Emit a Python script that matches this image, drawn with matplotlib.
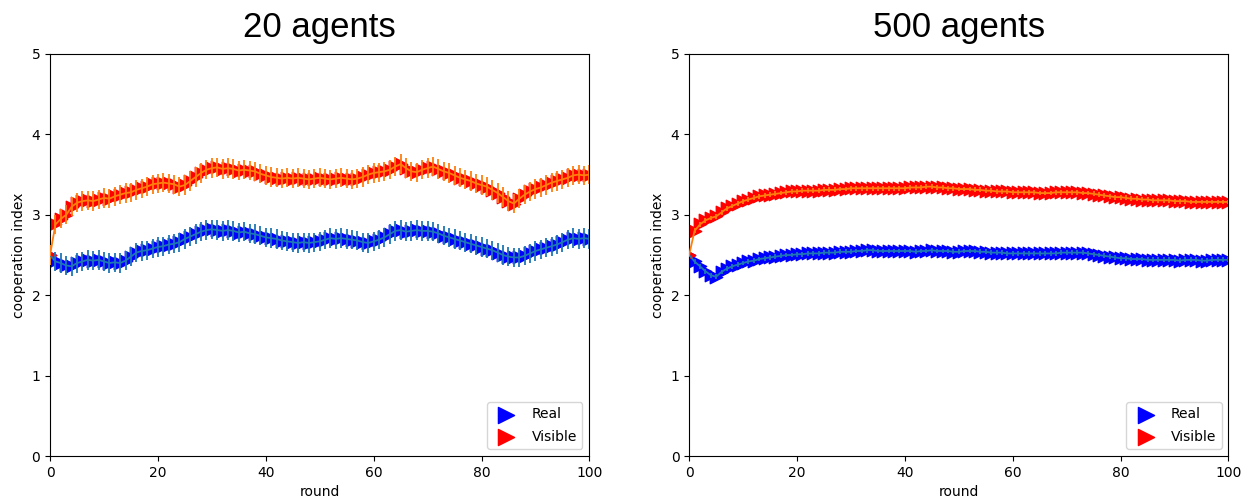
import numpy as np
import matplotlib.pyplot as plt

rounds = np.arange(101)

# 20 agents
real_20 = [2.50, 2.42, 2.40, 2.37, 2.36, 2.40, 2.42, 2.44, 2.43, 2.44,
           2.42, 2.40, 2.41, 2.40, 2.43, 2.48, 2.53, 2.55, 2.56, 2.58,
           2.60, 2.61, 2.63, 2.64, 2.66, 2.70, 2.73, 2.76, 2.79, 2.81,
           2.82, 2.81, 2.80, 2.81, 2.80, 2.78, 2.79, 2.77, 2.76, 2.74,
           2.72, 2.71, 2.70, 2.68, 2.67, 2.66, 2.65, 2.66, 2.65, 2.66,
           2.67, 2.69, 2.71, 2.70, 2.71, 2.70, 2.69, 2.68, 2.66, 2.65,
           2.67, 2.69, 2.72, 2.76, 2.80, 2.81, 2.79, 2.80, 2.81, 2.80,
           2.80, 2.79, 2.77, 2.74, 2.72, 2.70, 2.68, 2.66, 2.64, 2.62,
           2.60, 2.58, 2.56, 2.53, 2.50, 2.48, 2.47, 2.47, 2.49, 2.52,
           2.55, 2.57, 2.59, 2.61, 2.63, 2.66, 2.69, 2.71, 2.70, 2.71,
           2.70]
visible_20 = [2.50, 2.88, 2.95, 3.00, 3.10, 3.15, 3.17, 3.18, 3.17, 3.19,
              3.21, 3.20, 3.23, 3.25, 3.27, 3.28, 3.31, 3.33, 3.35, 3.38,
              3.39, 3.40, 3.39, 3.38, 3.35, 3.37, 3.42, 3.47, 3.52, 3.56,
              3.58, 3.59, 3.57, 3.58, 3.57, 3.55, 3.56, 3.55, 3.54, 3.51,
              3.49, 3.47, 3.46, 3.45, 3.46, 3.45, 3.46, 3.45, 3.44, 3.45,
              3.46, 3.45, 3.44, 3.45, 3.46, 3.45, 3.44, 3.45, 3.47, 3.50,
              3.52, 3.53, 3.54, 3.56, 3.60, 3.63, 3.58, 3.54, 3.53, 3.56,
              3.58, 3.60, 3.57, 3.54, 3.52, 3.49, 3.46, 3.44, 3.42, 3.39,
              3.37, 3.35, 3.31, 3.27, 3.22, 3.17, 3.14, 3.20, 3.25, 3.29,
              3.32, 3.34, 3.37, 3.40, 3.42, 3.44, 3.46, 3.49, 3.50, 3.49,
              3.50]
err_20 = 0.12

# 500 agents
real_500 = [2.50, 2.42, 2.36, 2.30, 2.25, 2.23, 2.29, 2.33, 2.36, 2.38,
            2.40, 2.42, 2.43, 2.45, 2.46, 2.47, 2.48, 2.49, 2.50, 2.50,
            2.51, 2.51, 2.52, 2.52, 2.52, 2.53, 2.53, 2.53, 2.54, 2.54,
            2.54, 2.55, 2.55, 2.56, 2.56, 2.55, 2.55, 2.55, 2.55, 2.55,
            2.55, 2.55, 2.54, 2.55, 2.55, 2.56, 2.55, 2.55, 2.55, 2.54,
            2.54, 2.55, 2.55, 2.55, 2.54, 2.54, 2.53, 2.53, 2.53, 2.52,
            2.52, 2.52, 2.52, 2.52, 2.52, 2.52, 2.52, 2.52, 2.52, 2.53,
            2.53, 2.53, 2.53, 2.53, 2.52, 2.51, 2.50, 2.49, 2.48, 2.47,
            2.46, 2.46, 2.45, 2.45, 2.45, 2.44, 2.44, 2.44, 2.44, 2.44,
            2.44, 2.43, 2.44, 2.44, 2.44, 2.43, 2.43, 2.44, 2.44, 2.44,
            2.44]
visible_500 = [2.50, 2.80, 2.88, 2.93, 2.96, 2.98, 3.03, 3.08, 3.11, 3.14,
               3.17, 3.19, 3.21, 3.23, 3.24, 3.25, 3.26, 3.27, 3.28, 3.29,
               3.29, 3.30, 3.30, 3.30, 3.30, 3.31, 3.31, 3.31, 3.32, 3.32,
               3.33, 3.33, 3.33, 3.33, 3.33, 3.33, 3.33, 3.33, 3.33, 3.33,
               3.33, 3.34, 3.34, 3.34, 3.35, 3.35, 3.34, 3.34, 3.33, 3.33,
               3.32, 3.32, 3.32, 3.31, 3.31, 3.30, 3.30, 3.29, 3.29, 3.29,
               3.28, 3.28, 3.28, 3.28, 3.28, 3.27, 3.27, 3.27, 3.28, 3.28,
               3.28, 3.28, 3.28, 3.27, 3.27, 3.26, 3.25, 3.24, 3.23, 3.22,
               3.22, 3.21, 3.20, 3.20, 3.19, 3.19, 3.18, 3.18, 3.18, 3.18,
               3.17, 3.17, 3.17, 3.16, 3.16, 3.16, 3.16, 3.16, 3.16, 3.16,
               3.16]
err_500 = 0.03

panels = [
  ('20 agents', real_20, visible_20, err_20),
  ('500 agents', real_500, visible_500, err_500),
]

fig, axes = plt.subplots(1, 2, figsize=(12.51, 5.04), dpi=100)
fig.subplots_adjust(left=0.040, right=0.982, top=0.893, bottom=0.095, wspace=0.185)

for ax, (title, real, visible, err) in zip(axes, panels):
  ax.scatter(rounds, real, marker='>', s=80, c='blue', label='Real', zorder=2)
  ax.errorbar(rounds, real, yerr=err, color='C0', lw=1.3, elinewidth=1.3, zorder=3)
  ax.scatter(rounds, visible, marker='>', s=80, c='red', label='Visible', zorder=2)
  ax.errorbar(rounds, visible, yerr=err, color='C1', lw=1.3, elinewidth=1.3, zorder=3)
  ax.set_xlim(0, 100)
  ax.set_ylim(0, 5)
  ax.set_xticks([0, 20, 40, 60, 80, 100])
  ax.set_yticks([0, 1, 2, 3, 4, 5])
  ax.tick_params(labelsize=10)
  ax.set_xlabel('round', fontsize=10, labelpad=4)
  ax.set_ylabel('cooperation index', fontsize=10)
  ax.set_title(title, fontsize=25, family='Liberation Sans', pad=12)
  ax.legend(loc='lower right', fontsize=10, markerscale=1.3, labelspacing=0.6)

plt.savefig('out.png')
